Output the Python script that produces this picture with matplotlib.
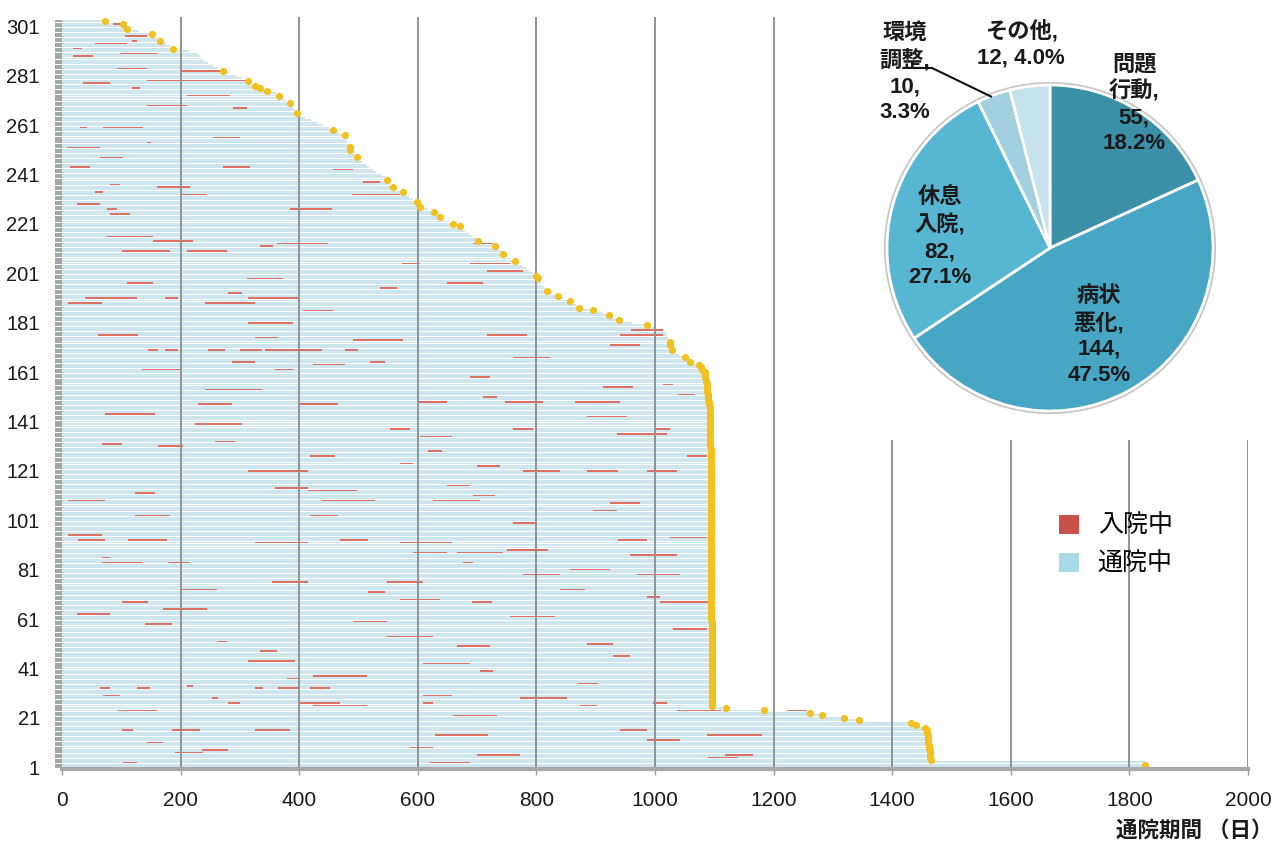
import matplotlib
matplotlib.use("Agg")
import matplotlib.pyplot as plt
from matplotlib.patches import Patch, Circle
import numpy as np

plt.rcParams['font.family'] = ['Liberation Sans', 'Noto Sans CJK JP', 'DejaVu Sans']

# ---------------------------------------------------------------------------
# Data
# ---------------------------------------------------------------------------
# Total follow-up length (days) for each patient, row 1 (bottom) to row 303 (top)
end_days = (
    [1826, 1826, 1827]
    + [1465, 1464, 1464, 1463, 1463, 1462, 1462, 1461, 1461, 1460, 1460, 1459, 1458, 1456]
    + [1440, 1432]
    + [1344, 1318, 1281, 1261, 1184, 1120]
    + [1096] * 35 + [1095] * 40 + [1094] * 30 + [1093] * 15
    + [1092, 1092, 1091, 1091, 1090, 1090, 1089]
    + [1088, 1088, 1087, 1087, 1086, 1086, 1085, 1085]
    + [1084, 1080, 1077, 1075, 1059, 1055, 1050, 1040, 1032, 1028, 1027, 1026, 1025,
       1024, 1022, 1020, 1018, 1015, 1000, 986, 962]
    + [939, 930, 922, 910, 896, 872, 866, 862, 857, 845, 836, 826, 818, 814, 811, 808,
       805, 802, 799, 795, 788, 782, 776, 770, 764, 758, 750, 744, 740, 735, 730, 715,
       702, 698, 692, 686, 680, 675, 671, 660, 652, 645, 637, 632, 627, 615, 604, 600,
       598, 592, 586, 580, 575, 565, 558, 553, 550, 548, 544, 538, 530, 524, 518, 512,
       506, 500, 497, 493, 489, 486, 485, 483, 481, 479, 478, 477, 466, 457, 450, 440,
       430, 420, 410, 402, 396, 393, 390, 387, 384, 378, 372, 366, 361, 345, 334, 325,
       318, 314, 303, 293, 282, 271, 262, 254, 246, 240, 236, 232, 230, 215, 188, 182,
       176, 165, 160, 155, 151, 130, 110, 106, 103, 72]
)

# Rows whose end of follow-up is marked
marked_rows = ([2] + list(range(4, 166))
               + [167, 170, 172, 173, 180, 182, 184, 186, 187, 190, 192, 194, 199, 200,
                  206, 209, 212, 214, 220, 221, 224, 226, 228, 230, 234, 236, 239, 248,
                  251, 252, 257, 259, 266, 270, 273, 275, 276, 277, 279, 283, 292, 295,
                  298, 300, 302, 303])

# Hospital stays: row, first day, last day
stay_rows = [302, 297, 295, 294, 292, 290, 289, 284, 283, 278, 279, 276, 273, 269, 268,
             260, 260, 256, 252, 254, 248, 244, 244, 237, 236, 234, 233, 229, 227, 227,
             225, 216, 214, 212, 213, 210, 210, 199,
             243, 238, 233, 213, 205, 205, 202, 197, 195, 186, 174, 176, 178,
             155, 156, 152, 136,
             197, 191, 189, 191, 193, 191, 189, 181, 175, 176, 170, 170, 170, 170, 170,
             170, 165, 162, 162, 164, 165, 154, 148, 148, 140, 144, 132, 131, 133,
             127, 121, 114, 113, 112, 109, 109, 103, 103, 95, 93, 93, 92, 93, 86, 84, 84,
             76, 73, 68, 72,
             65, 63, 59, 60, 54, 52, 48, 44, 37, 38, 33, 33, 33, 33, 33, 30, 34, 29, 27,
             27, 26, 24, 16, 16, 16, 11, 7, 8, 3,
             176, 172, 167, 159, 151, 149, 149, 149, 143, 138, 138, 138, 135, 129, 124,
             123, 121, 121, 121, 127, 115, 111, 109, 108,
             105, 100, 92, 88, 88, 89, 93, 94, 87, 84, 81, 79, 79, 76, 73, 68, 68, 70, 69,
             62, 57, 51, 50,
             46, 43, 40, 35, 30, 29, 27, 26, 27, 24, 22, 16, 14, 12, 9, 6, 3, 14, 6, 5, 24]
stay_start = [86, 106, 118, 56, 19, 98, 19, 93, 199, 35, 143, 118, 211, 143, 288,
              30, 69, 255, 8, 143, 64, 13, 272, 81, 160, 56, 202, 25, 76, 384,
              81, 76, 153, 334, 362, 101, 211, 312,
              457, 508, 489, 693, 573, 688, 716, 649, 536, 406, 491, 941, 960,
              912, 1013, 1039, 936,
              110, 39, 10, 174, 280, 314, 241, 314, 325, 61, 145, 174, 246, 300, 342,
              477, 287, 135, 359, 423, 519, 241, 229, 401, 224, 72, 67, 162, 258,
              418, 314, 359, 415, 123, 10, 438, 123, 418, 10, 27, 111, 325, 469, 67, 67, 179,
              354, 199, 101, 516,
              170, 25, 140, 491, 548, 263, 334, 314, 379, 423, 64, 126, 325, 364, 418, 69,
              211, 253, 280, 401, 423, 94, 101, 185, 325, 143, 190, 236, 103,
              716, 924, 761, 688, 710, 598, 747, 865, 885, 553, 761, 1000, 604, 617, 570,
              700, 777, 885, 986, 1054, 649, 693, 625, 924,
              895, 761, 570, 592, 666, 750, 937, 1025, 958, 676, 857, 777, 970, 548, 840,
              691, 1008, 986, 570, 755, 1030, 885, 666,
              929, 609, 705, 870, 609, 772, 609, 873, 996, 1037, 659, 941, 629, 986, 587,
              700, 620, 1087, 1118, 1089, 1222]
stay_end = [98, 143, 126, 110, 34, 160, 53, 143, 266, 81, 312, 131, 283, 211, 312,
            42, 137, 300, 64, 150, 103, 47, 317, 98, 216, 69, 244, 64, 93, 455,
            115, 153, 221, 356, 448, 182, 278, 373,
            491, 536, 570, 727, 604, 755, 777, 710, 565, 457, 575, 1013, 1013,
            963, 1030, 1067, 1020,
            153, 126, 67, 196, 303, 398, 325, 389, 364, 128, 162, 196, 275, 337, 438,
            499, 325, 202, 389, 477, 545, 337, 287, 465, 303, 157, 101, 204, 292,
            460, 415, 415, 497, 157, 72, 528, 182, 465, 67, 72, 177, 415, 516, 81, 137, 216,
            415, 261, 145, 545,
            244, 81, 185, 548, 626, 278, 362, 393, 401, 514, 81, 148, 339, 401, 452, 98,
            221, 263, 300, 469, 514, 160, 120, 233, 384, 170, 238, 280, 126,
            784, 975, 823, 722, 733, 649, 811, 941, 953, 587, 794, 1025, 658, 641, 592,
            738, 840, 937, 1037, 1087, 688, 730, 705, 975,
            936, 801, 657, 649, 744, 819, 986, 1087, 1037, 693, 924, 840, 1042, 609, 882,
            725, 1089, 1008, 637, 831, 1087, 929, 722,
            958, 688, 727, 904, 657, 851, 626, 902, 1020, 1111, 733, 986, 718, 1042, 625,
            772, 688, 1180, 1165, 1140, 1256]

x_ticks = [0, 200, 400, 600, 800, 1000, 1200, 1400, 1600, 1800, 2000]
y_ticks = [1, 21, 41, 61, 81, 101, 121, 141, 161, 181, 201, 221, 241, 261, 281, 301]

# Reasons for hospitalisation
reason_labels = ['問題\n行動,\n55,\n18.2%', '病状\n悪化,\n144,\n47.5%', '休息\n入院,\n82,\n27.1%',
                 '環境\n調整,\n10,\n3.3%', 'その他,\n12, 4.0%']
reason_counts = [55, 144, 82, 10, 12]

legend_labels = ['入院中', '通院中']

# ---------------------------------------------------------------------------
# Styling
# ---------------------------------------------------------------------------
BAR_BLUE = '#d0e6ef'
STAY_RED = '#dd7063'
GOLD = '#f3c022'
GRID = '#929292'
pie_colors = ['#3b8fa6', '#46a6c3', '#57b7d3', '#a3d0df', '#c6e3ec']

W, H = 1282, 848
fig = plt.figure(figsize=(W / 100, H / 100), dpi=100)
fig.patch.set_facecolor('white')

ax = fig.add_axes([62 / W, 1 - 769 / H, (1248 - 62) / W, (769 - 17) / H])
rows = np.arange(1, len(end_days) + 1)
ends = np.array(end_days)

ax.barh(rows, ends, height=0.78, color=BAR_BLUE, linewidth=0, zorder=1)
s0 = np.array(stay_start)
s1 = np.array(stay_end)
ax.barh(stay_rows, s1 - s0, left=s0, height=0.62, color=STAY_RED, linewidth=0, zorder=2)

for xv in x_ticks[1:]:
    ax.axvline(xv, color=GRID, lw=1.4, zorder=3)

mr = np.array(marked_rows)
ax.scatter(ends[mr - 1], mr, s=27, color=GOLD, linewidths=0, zorder=4, clip_on=False)

ax.set_xlim(0, 2000)
ax.set_ylim(0.3, 304.8)
ax.set_xticks(x_ticks)
ax.set_xticklabels([str(v) for v in x_ticks])
ax.set_yticks(y_ticks)
ax.set_yticklabels([str(v) for v in y_ticks])
ax.set_yticks(rows, minor=True)
ax.tick_params(axis='y', which='both', length=5, width=1.1, color='#8a8a8a',
               pad=11, labelsize=14.5, labelcolor='#1a1a1a')
ax.tick_params(axis='x', length=4, width=1, color='#999999', pad=12,
               labelsize=15, labelcolor='#1a1a1a')
for side in ['top', 'right', 'left']:
    ax.spines[side].set_visible(False)
ax.spines['bottom'].set_color('#a8a8a8')
ax.spines['bottom'].set_linewidth(3)
ax.spines['bottom'].set_zorder(5)

fig.text(1272 / W, 1 - 831 / H, '通院期間 （日）', ha='right', va='center',
         fontsize=15.5, fontweight='bold', color='#1a1a1a')

# Legend
handles = [Patch(facecolor='#c9514a', edgecolor='none'),
           Patch(facecolor='#a9d8e6', edgecolor='none')]
fig.legend(handles, legend_labels, loc='upper left',
           bbox_to_anchor=(1059 / W, 1 - 514 / H), frameon=False, fontsize=18,
           handlelength=0.8, handleheight=0.8, handletextpad=0.75,
           labelspacing=0.55, borderpad=0, borderaxespad=0)

# Pie of reasons, on a white panel in the upper right
axp = fig.add_axes([870 / W, 1 - 440 / H, 412 / W, 440 / H])
cx, cy, r = 1050, 848 - 248, 163
axp.add_patch(Circle((cx, cy), r + 1.5, facecolor='none', edgecolor='#c4c4c4', lw=2.2, zorder=0))
axp.pie(reason_counts, colors=pie_colors, startangle=90, counterclock=False,
        center=(cx, cy), radius=r, frame=True,
        wedgeprops=dict(edgecolor='white', linewidth=2))
axp.set_xlim(870, 1282)
axp.set_ylim(848 - 440, 848)
axp.set_xticks([])
axp.set_yticks([])
for sp in axp.spines.values():
    sp.set_visible(False)
axp.set_facecolor('white')

label_pos = [(1134, 104), (1099, 336), (940, 238), (905, 73), (1021, 44)]
for lab, (lx, ly) in zip(reason_labels, label_pos):
    axp.text(lx, 848 - ly, lab, ha='center', va='center', fontsize=16,
             fontweight='bold', linespacing=1.3, color='#1a1a1a',
             multialignment='center')

axp.plot([918, 932, 992], [848 - 68, 848 - 68, 848 - 97], color='#111111', lw=1.5,
         solid_capstyle='butt')

fig.savefig('out.png', dpi=100)
